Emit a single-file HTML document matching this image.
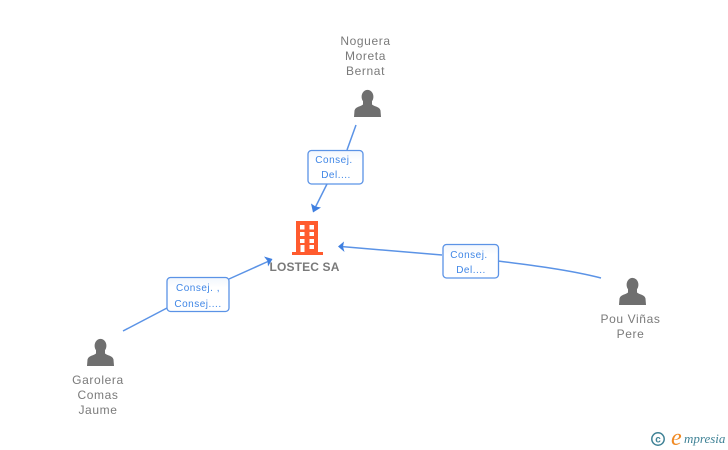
<!DOCTYPE html>
<html lang="es">
<head>
<meta charset="utf-8">
<title>LOSTEC SA</title>
<style>
html,body{margin:0;padding:0;background:#fff;width:728px;height:450px;overflow:hidden}
svg{display:block}
text{font-family:"Liberation Sans",Arial,sans-serif}
.n{font-size:12px;fill:#7a7a7a;letter-spacing:.62px;text-anchor:middle}
.b{font-size:10px;fill:#3f86e6;letter-spacing:.5px;text-anchor:middle}
.l{fill:none;stroke:#5b93e6;stroke-width:1.5}
.box{fill:#fff;stroke:#5b93e6;stroke-width:1.3}
.a{fill:#3f7fe0}
.p{fill:#6f6f6f}
</style>
</head>
<body>
<svg width="728" height="450" viewBox="0 0 728 450" xmlns="http://www.w3.org/2000/svg">
<defs>
<linearGradient id="g" x1="0" y1="0" x2="0" y2="1">
<stop offset="0" stop-color="#f1f6fd"/><stop offset=".3" stop-color="#fff"/><stop offset="1" stop-color="#fff"/>
</linearGradient>
<g id="person">
<ellipse cx="0" cy="6.800" rx="5.900" ry="6.900"/>
<path d="M-4.500 11 L-4.500 14.500 C-6.500 16.500 -12 16.500 -13 20.500 L-13.500 27 L13.500 27 L13 20.500 C12 16.500 6.500 16.500 4.500 14.500 L4.500 11 Z"/>
</g>
</defs>

<!-- connectors -->
<path class="l" d="M356 125 L347 150 M327 184 L314 210"/>
<path class="l" d="M601 278 C570 270 530 265 498 261 M442 255 L341 246.500"/>
<path class="l" d="M123 331 L167 308 M229 279 L269 261"/>

<!-- arrowheads -->
<path class="a" d="M313 212.500 L311 203.500 L315.500 206.500 L321 207.500 Z"/>
<path class="a" d="M338 246.500 L344 241.500 L343 246.700 L344.500 252 Z"/>
<path class="a" d="M272.500 259 L264 256.500 L267.500 261 L268 266.500 Z"/>

<!-- label boxes -->
<rect class="box" x="308" y="150.500" width="55" height="33.500" rx="3.500" style="fill:url(#g)"/>
<text class="b" x="334" y="163">Consej.</text>
<text class="b" x="336" y="178">Del....</text>

<rect class="box" x="443" y="244.500" width="55.500" height="33.500" rx="3.500" style="fill:url(#g)"/>
<text class="b" x="469" y="258">Consej.</text>
<text class="b" x="471" y="273">Del....</text>

<rect class="box" x="167" y="277.500" width="62" height="34" rx="3.500" style="fill:url(#g)"/>
<text class="b" x="198" y="291">Consej. ,</text>
<text class="b" x="198" y="307">Consej....</text>

<!-- company node -->
<g fill="#ff5b2e">
<path fill-rule="evenodd" d="M296 221 H318 V252 H323 V255 H292 V252 H296 Z
M300 225 V229.500 H304.500 V225 Z M309.500 225 V229.500 H314 V225 Z
M300 232 V236 H304.500 V232 Z M309.500 232 V236 H314 V232 Z
M300 239 V243 H304.500 V239 Z M309.500 239 V243 H314 V239 Z
M300.500 245 V252 H304.500 V245 Z M309.500 245 V249 H314 V245 Z"/>
</g>
<text x="304.500" y="271" text-anchor="middle" style="font-size:12px;font-weight:bold;fill:#7a7a7a;letter-spacing:.15px">LOSTEC SA</text>

<!-- persons -->
<use href="#person" class="p" x="367.500" y="90"/>
<text class="n" x="365.500" y="45">Noguera</text>
<text class="n" x="365.500" y="60">Moreta</text>
<text class="n" x="365.500" y="75">Bernat</text>

<use href="#person" class="p" x="632.500" y="278"/>
<text class="n" x="630.500" y="323">Pou Viñas</text>
<text class="n" x="630.500" y="338">Pere</text>

<use href="#person" class="p" x="100.500" y="339"/>
<text class="n" x="98" y="384">Garolera</text>
<text class="n" x="98" y="399">Comas</text>
<text class="n" x="98" y="414">Jaume</text>

<!-- logo -->
<circle cx="658" cy="439" r="6.200" fill="none" stroke="#3f8296" stroke-width="1.500"/>
<text x="658" y="442.500" text-anchor="middle" style="font-size:10px;fill:#3f8296;font-weight:bold">c</text>
<text x="671" y="445" style="font-family:'Liberation Serif',serif;font-size:24px;font-style:italic;fill:#f08a24">e</text>
<text x="684" y="443" style="font-family:'Liberation Serif',serif;font-size:13px;font-style:italic;fill:#3f8296">mpresia</text>
</svg>
</body>
</html>
